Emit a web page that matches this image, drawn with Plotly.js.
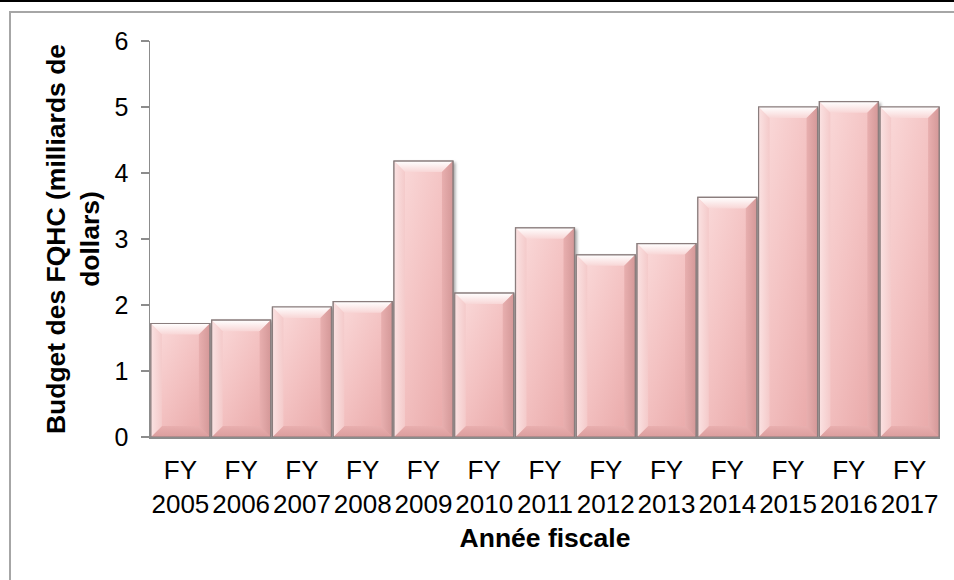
<!DOCTYPE html>
<html>
<head>
<meta charset="utf-8">
<script src="https://cdn.plot.ly/plotly-3.0.1.min.js"></script>
<style>
  html, body { margin: 0; padding: 0; background: #ffffff; overflow: hidden; }
  #wrap { position: relative; width: 954px; height: 580px; overflow: hidden; }
  #chart { position: absolute; left: 0; top: 0; width: 954px; height: 580px; }
  #topline { position: absolute; left: 0; top: 0; width: 954px; height: 2px; background: #000; }
  #frameTop { position: absolute; left: 9px; top: 11px; width: 945px; height: 2px; background: #a6a6a6; }
  #frameLeft { position: absolute; left: 9px; top: 11px; width: 2px; height: 569px; background: #a6a6a6; }
  #rightMask { position: absolute; left: 945px; top: 14px; width: 9px; height: 566px; background: #ffffff; }
</style>
</head>
<body>
<div id="wrap">
  <div id="chart"></div>
  <div id="rightMask"></div>
  <div id="topline"></div>
  <div id="frameTop"></div>
  <div id="frameLeft"></div>
</div>
<script>
// ---- data ----
const years = ["2005","2006","2007","2008","2009","2010","2011","2012","2013","2014","2015","2016","2017"];
const tickLabels = ["FY<br>2005","FY<br>2006","FY<br>2007","FY<br>2008","FY<br>2009","FY<br>2010","FY<br>2011","FY<br>2012","FY<br>2013","FY<br>2014","FY<br>2015","FY<br>2016","FY<br>2017"];
const budget = [1.72, 1.77, 1.97, 2.05, 4.18, 2.18, 3.17, 2.76, 2.93, 3.63, 5.0, 5.08, 5.0];
const yTicks = [0, 1, 2, 3, 4, 5, 6];

const FONT = "Liberation Sans, Arial, sans-serif";

const trace = {
  type: "bar",
  x: years,
  y: budget,
  marker: { color: "#f2bfbf", line: { color: "#8a7d7d", width: 1.2 } },
  hoverinfo: "x+y"
};

const layout = {
  width: 954, height: 580,
  margin: { l: 150, r: 14, t: 41, b: 143 },
  paper_bgcolor: "#ffffff",
  plot_bgcolor: "#ffffff",
  bargap: 0.03,
  showlegend: false,
  font: { family: FONT, color: "#000000", size: 25 },
  xaxis: {
    type: "category",
    tickvals: years,
    ticktext: tickLabels,
    tickfont: { family: FONT, size: 26, color: "#000" },
    ticklabelstandoff: 9,
    showline: true, linecolor: "#8c8c8c", linewidth: 1.5,
    ticks: "", showgrid: false, zeroline: false,
    title: { text: "Année fiscale", font: { family: FONT, size: 26.5, color: "#000", weight: "bold" }, standoff: 11 },
    automargin: false
  },
  yaxis: {
    range: [0, 6],
    tickvals: yTicks,
    ticktext: yTicks.map(String),
    tickfont: { family: FONT, size: 25, color: "#000" },
    ticklabelstandoff: 7,
    showline: true, linecolor: "#8c8c8c", linewidth: 1.5,
    ticks: "outside", ticklen: 8, tickcolor: "#8c8c8c", tickwidth: 1.5,
    showgrid: false, zeroline: false,
    title: { text: "Budget des FQHC (milliards de<br>dollars)", font: { family: FONT, size: 26.5, color: "#000", weight: "bold" }, standoff: 7 },
    automargin: false
  }
};

Plotly.newPlot("chart", [trace], layout, { displayModeBar: false, staticPlot: true }).then(decorate);

function decorate() {
  const svg = document.querySelector("#chart .main-svg");
  const NS = "http://www.w3.org/2000/svg";
  let defs = svg.querySelector("defs");
  if (!defs) { defs = document.createElementNS(NS, "defs"); svg.insertBefore(defs, svg.firstChild); }
  function grad(id, x2, y2, stops) {
    const g = document.createElementNS(NS, "linearGradient");
    g.setAttribute("id", id);
    g.setAttribute("x1", "0"); g.setAttribute("y1", "0");
    g.setAttribute("x2", x2); g.setAttribute("y2", y2);
    stops.forEach(s => {
      const st = document.createElementNS(NS, "stop");
      st.setAttribute("offset", s[0]); st.setAttribute("stop-color", s[1]);
      g.appendChild(st);
    });
    defs.appendChild(g);
  }
  grad("barFace", "1", "1", [["0", "#fbdcdc"], ["0.5", "#f3c1c1"], ["1", "#e7a5a5"]]);
  grad("bevelTop", "0", "1", [["0", "#ffffff"], ["1", "#f8d6d6"]]);
  grad("bevelRight", "1", "0", [["0", "#e8afaf"], ["1", "#d49898"]]);
  grad("bevelBottom", "0", "1", [["0", "#e9afaf"], ["1", "#db9d9d"]]);
  grad("bevelLeft", "1", "0", [["0", "#fbe2e2"], ["1", "#f4caca"]]);

  const paths = svg.querySelectorAll(".barlayer .trace .point path");
  paths.forEach(p => {
    const bb = p.getBBox();
    const x0 = bb.x, x1 = bb.x + bb.width, y0 = bb.y, y1 = bb.y + bb.height;
    const b = 11;
    p.style.fill = "url(#barFace)";
    p.style.filter = "drop-shadow(2px 2px 1.5px rgba(0,0,0,0.35))";
    const parent = p.parentNode;
    function poly(pts, fill) {
      const pl = document.createElementNS(NS, "polygon");
      pl.setAttribute("points", pts.map(q => q.join(",")).join(" "));
      pl.setAttribute("fill", fill);
      parent.appendChild(pl);
    }
    poly([[x0, y0], [x1, y0], [x1 - b, y0 + b], [x0 + b, y0 + b]], "url(#bevelTop)");
    poly([[x1, y0], [x1, y1], [x1 - b, y1 - b], [x1 - b, y0 + b]], "url(#bevelRight)");
    poly([[x0, y1], [x1, y1], [x1 - b, y1 - b], [x0 + b, y1 - b]], "url(#bevelBottom)");
    poly([[x0, y0], [x0, y1], [x0 + b, y1 - b], [x0 + b, y0 + b]], "url(#bevelLeft)");
    const outline = p.cloneNode(false);
    outline.style.fill = "none";
    outline.style.filter = "none";
    outline.style.stroke = "#8a7d7d";
    outline.style.strokeWidth = "1.2px";
    parent.appendChild(outline);
  });
}
</script>
</body>
</html>
